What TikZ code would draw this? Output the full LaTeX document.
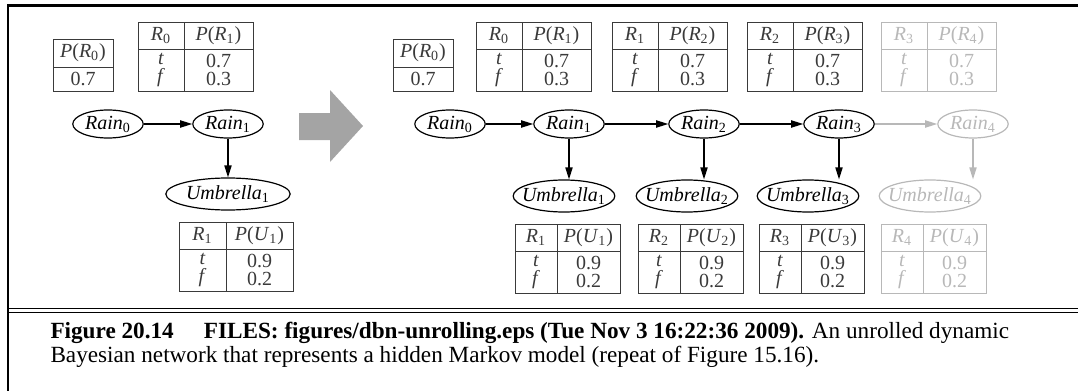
\documentclass[tikz,border=0pt]{standalone}
\usepackage{fontspec}
\setmainfont{Liberation Serif}
\usepackage{xcolor}
\usepackage{tikz}
\usetikzlibrary{arrows.meta,shapes.geometric}
\definecolor{dbnink}{HTML}{1A1A1A}
\definecolor{tabink}{HTML}{3A3A3A}
\definecolor{fadeink}{HTML}{B8B8B8}
\definecolor{unrollgray}{HTML}{A4A4A4}
\newcommand{\lowidx}[1]{\textsubscript{\upshape#1}}
\newcommand{\rv}[2]{\textit{#1}\lowidx{#2}}
% conditional probability table: name, colour, left x, top y, left column, width, parent, child, values
\newcommand{\cpt}[9]{%
  \begin{scope}[#2]
  \draw (#3,#4) rectangle ++(#6,69);
  \draw (#3,#4+27) -- ++(#6,0);
  \draw (#3+#5,#4) -- ++(0,69);
  \node (#1a) at (#3+#5/2,#4+13.5) {#7};
  \node (#1b) at ({#3+(#5+#6)/2},#4+13.5) {#8};
  \node[cptrows] (#1c) at (#3+#5/2,#4+48) {\textit{t}\\\textit{f}};
  \node[cptrows] (#1d) at ({#3+(#5+#6)/2},#4+48) {#9};
  \end{scope}}
\tikzset{
  var/.style={draw, ellipse, inner xsep=1pt, inner ysep=0pt, minimum height=14pt, line width=0.6pt},
  umbvar/.style={var, inner xsep=-3pt, minimum height=16pt},
  flow/.style={-{Triangle[length=6pt,width=3.6pt]}, line width=0.6pt},
  cptrows/.style={inner sep=0pt, align=center, font=\fontsize{10}{9.4}\selectfont},
}

\begin{document}
\begin{tikzpicture}[x=0.5pt, y=-0.5pt, font=\fontsize{10}{12}\selectfont, line width=0.5pt]
\useasboundingbox (0,0) rectangle (1078,391);

% frame
\draw[line width=1.1pt] (8,391) -- (8,5.5) -- (1078,5.5);
\draw[line width=0.8pt] (8,308.5) -- (1078,308.5);
\draw[line width=0.8pt] (8,312.5) -- (1078,312.5);

% one time slice
\draw[tabink] (53,39) rectangle (113,91);
\draw[tabink] (53,67) -- (113,67);
\node[tabink] (lprior) at (83,53) {\textit{P}(\rv{R}{0})};
\node[tabink] (lpriorv) at (83,79) {0.7};
\cpt{ltr}{tabink}{138}{22}{46}{115}{\rv{R}{0}}{\textit{P}(\rv{R}{1})}{0.7\\0.3}
\cpt{lsen}{tabink}{179}{222}{47}{114}{\rv{R}{1}}{\textit{P}(\rv{U}{1})}{0.9\\0.2}

\node[var] (lrain0) at (108,124) {\textit{Rain}\lowidx{0}};
\node[var] (lrain1) at (228,124) {\textit{Rain}\lowidx{1}};
\node[var, minimum height=16pt] (lumb1) at (228,194) {\textit{Umbrella}\lowidx{1}};
\draw[flow] (lrain0) -- (lrain1);
\draw[flow] (lrain1) -- (lumb1);

% unrolling arrow
\fill[unrollgray] (299,113) -- (330,113) -- (330,90) -- (363,126) -- (330,162) -- (330,140) -- (299,140) -- cycle;

% unrolled network
\draw[tabink] (393,39) rectangle (453,91);
\draw[tabink] (393,67) -- (453,67);
\node[tabink] (prior) at (423,53) {\textit{P}(\rv{R}{0})};
\node[tabink] (priorv) at (423,79) {0.7};
\cpt{tr1}{tabink}{476}{22}{46}{115}{\rv{R}{0}}{\textit{P}(\rv{R}{1})}{0.7\\0.3}
\cpt{tr2}{tabink}{612}{22}{46}{115}{\rv{R}{1}}{\textit{P}(\rv{R}{2})}{0.7\\0.3}
\cpt{tr3}{tabink}{747}{22}{46}{115}{\rv{R}{2}}{\textit{P}(\rv{R}{3})}{0.7\\0.3}
\cpt{tr4}{fadeink}{881}{22}{46}{115}{\rv{R}{3}}{\textit{P}(\rv{R}{4})}{0.7\\0.3}
\cpt{sen1}{tabink}{515}{224}{42}{105}{\rv{R}{1}}{\textit{P}(\rv{U}{1})}{0.9\\0.2}
\cpt{sen2}{tabink}{638}{224}{42}{105}{\rv{R}{2}}{\textit{P}(\rv{U}{2})}{0.9\\0.2}
\cpt{sen3}{tabink}{759}{224}{42}{105}{\rv{R}{3}}{\textit{P}(\rv{U}{3})}{0.9\\0.2}
\cpt{sen4}{fadeink}{881}{224}{42}{105}{\rv{R}{4}}{\textit{P}(\rv{U}{4})}{0.9\\0.2}

\node[var] (rain0) at (450,124) {\textit{Rain}\lowidx{0}};
\node[var] (rain1) at (569,124) {\textit{Rain}\lowidx{1}};
\node[var] (rain2) at (704,124) {\textit{Rain}\lowidx{2}};
\node[var] (rain3) at (839,124) {\textit{Rain}\lowidx{3}};
\node[var, fadeink] (rain4) at (973,124) {\textit{Rain}\lowidx{4}};
\node[umbvar] (umb1) at (564,196) {\textit{Umbrella}\lowidx{1}};
\node[umbvar] (umb2) at (687,196) {\textit{Umbrella}\lowidx{2}};
\node[umbvar] (umb3) at (808,196) {\textit{Umbrella}\lowidx{3}};
\node[umbvar, fadeink] (umb4) at (930,196) {\textit{Umbrella}\lowidx{4}};

\draw[flow] (rain0) -- (rain1);
\draw[flow] (rain1) -- (rain2);
\draw[flow] (rain2) -- (rain3);
\draw[flow, fadeink] (rain3) -- (rain4);
\draw[flow] (rain1) -- (rain1 |- umb1.north);
\draw[flow] (rain2) -- (rain2 |- umb2.north);
\draw[flow] (rain3) -- (rain3 |- umb3.north);
\draw[flow, fadeink] (rain4) -- (rain4 |- umb4.north);

% caption
\node[anchor=base west, inner sep=0pt, font=\fontsize{11.6}{13}\selectfont] (cap1) at (50,338)
  {\textbf{Figure 20.14}\hspace{1.3em}\textbf{FILES: figures/dbn-unrolling.eps (Tue Nov 3 16:22:36 2009).} An unrolled dynamic};
\node[anchor=base west, inner sep=0pt, font=\fontsize{11.6}{13}\selectfont] (cap2) at (50,362)
  {Bayesian network that represents a hidden Markov model (repeat of Figure 15.16).};
\end{tikzpicture}
\end{document}
